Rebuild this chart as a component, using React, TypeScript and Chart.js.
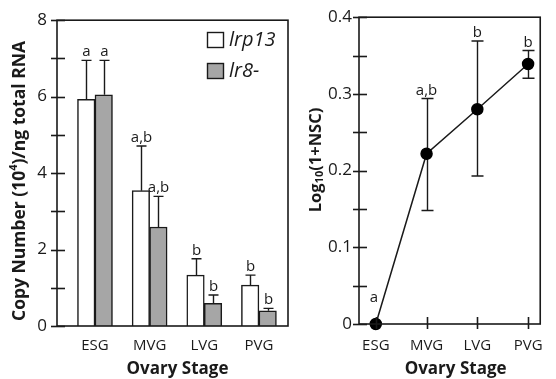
import React, { useEffect, useRef } from "react";
import { Chart, registerables } from "chart.js";
Chart.register(...registerables);

// ---------- data ----------
const stages = ["ESG", "MVG", "LVG", "PVG"];
const lrp13Values = [5.93, 3.54, 1.33, 1.07];
const lrp13ErrorTop = [6.95, 4.71, 1.76, 1.33];
const lrp13Letters = ["a", "a,b", "b", "b"];
const lr8Values = [6.05, 2.59, 0.59, 0.4];
const lr8ErrorTop = [6.95, 3.39, 0.81, 0.46];
const lr8Letters = ["a", "a,b", "b", "b"];
const nscValues = [0, 0.222, 0.28, 0.339];
const nscErrLow = [0, 0.148, 0.193, 0.3205];
const nscErrHigh = [0, 0.294, 0.369, 0.3565];
const nscLetters = ["a", "a,b", "b", "b"];

const FONT = "'Open Sans', 'DejaVu Sans', sans-serif";
const INK = "#1a1a1a";

type Seg = { t: string; small?: boolean; dy?: number };

function drawRich(ctx: CanvasRenderingContext2D, segs: Seg[], size: number, cx: number, cy: number, rot: number) {
  ctx.save();
  ctx.translate(cx, cy);
  ctx.rotate(rot);
  ctx.fillStyle = INK;
  ctx.textBaseline = "middle";
  ctx.textAlign = "left";
  let total = 0;
  const widths: number[] = [];
  for (const s of segs) {
    ctx.font = `bold ${s.small ? Math.round(size * 0.65) : size}px ${FONT}`;
    const w = ctx.measureText(s.t).width;
    widths.push(w);
    total += w;
  }
  let x = -total / 2;
  segs.forEach((s, i) => {
    ctx.font = `bold ${s.small ? Math.round(size * 0.65) : size}px ${FONT}`;
    ctx.fillText(s.t, x, s.dy || 0);
    x += widths[i];
  });
  ctx.restore();
}

function framePlugin(id: string, xTicks: boolean) {
  return {
    id,
    afterDatasetsDraw(chart: any) {
      const { ctx, chartArea: a, scales } = chart;
      ctx.save();
      ctx.strokeStyle = INK;
      ctx.lineWidth = 1.6;
      ctx.strokeRect(a.left, a.top, a.right - a.left, a.bottom - a.top);
      const ys = scales.y;
      ys.ticks.forEach((t: any) => {
        const py = Math.round(ys.getPixelForValue(t.value)) + 0.5;
        ctx.beginPath();
        ctx.moveTo(a.left - 6, py);
        ctx.lineTo(a.left + 8, py);
        ctx.stroke();
      });
      if (xTicks) {
        const xs = scales.x;
        xs.ticks.forEach((t: any) => {
          const px = Math.round(xs.getPixelForValue(t.value)) + 0.5;
          ctx.beginPath();
          ctx.moveTo(px, a.bottom + 5);
          ctx.lineTo(px, a.bottom - 7);
          ctx.stroke();
        });
      }
      ctx.restore();
    },
  };
}

function BarPanel() {
  const ref = useRef<HTMLCanvasElement>(null);
  useEffect(() => {
    const errPlugin = {
      id: "barErr",
      afterDatasetsDraw(chart: any) {
        const { ctx, scales } = chart;
        const tops = [lrp13ErrorTop, lr8ErrorTop];
        const letters = [lrp13Letters, lr8Letters];
        ctx.save();
        ctx.strokeStyle = INK;
        ctx.lineWidth = 1.4;
        ctx.fillStyle = INK;
        ctx.font = `15px ${FONT}`;
        ctx.textAlign = "center";
        ctx.textBaseline = "alphabetic";
        [0, 1].forEach((di) => {
          const meta = chart.getDatasetMeta(di);
          meta.data.forEach((bar: any, i: number) => {
            const x = Math.round(bar.x) + 0.5;
            const yTop = scales.y.getPixelForValue(tops[di][i]);
            ctx.beginPath();
            ctx.moveTo(x, bar.y);
            ctx.lineTo(x, yTop);
            ctx.moveTo(x - 5, yTop);
            ctx.lineTo(x + 5, yTop);
            ctx.stroke();
            ctx.fillText(letters[di][i], x, yTop - 4);
          });
        });
        // legend
        const lx = 207;
        const ly = [32, 63];
        chart.data.datasets.forEach((ds: any, i: number) => {
          ctx.fillStyle = ds.backgroundColor;
          ctx.fillRect(lx, ly[i], 16, 15);
          ctx.strokeStyle = INK;
          ctx.lineWidth = 1.4;
          ctx.strokeRect(lx + 0.5, ly[i] + 0.5, 16, 15);
          ctx.fillStyle = INK;
          ctx.font = `italic 20px ${FONT}`;
          ctx.textAlign = "left";
          ctx.textBaseline = "middle";
          ctx.fillText(ds.label, lx + 22, ly[i] + 8);
        });
        ctx.restore();
      },
    };
    const titlePlugin = {
      id: "barTitles",
      afterDraw(chart: any) {
        const { ctx, chartArea: a } = chart;
        drawRich(ctx, [{ t: "Ovary Stage" }], 17, (a.left + a.right) / 2 + 5, 369, 0);
        drawRich(
          ctx,
          [{ t: "Copy Number (10" }, { t: "4", small: true, dy: -6 }, { t: ")/ng total RNA" }],
          17.5,
          20,
          181,
          -Math.PI / 2
        );
      },
    };
    const chart = new Chart(ref.current!, {
      type: "bar",
      data: {
        datasets: [
          {
            label: "lrp13",
            data: lrp13Values.map((v, i) => ({ x: i, y: v })),
            backgroundColor: "#ffffff",
            borderColor: INK,
            borderWidth: 1.5,
            barThickness: 17.5,
          },
          {
            label: "lr8-",
            data: lr8Values.map((v, i) => ({ x: i, y: v })),
            backgroundColor: "#a6a6a6",
            borderColor: INK,
            borderWidth: 1.5,
            barThickness: 17.5,
          },
        ],
      },
      options: {
        responsive: false,
        animation: false,
        layout: { padding: { top: 19, right: 4, left: 0, bottom: 0 } },
        plugins: { legend: { display: false }, tooltip: { enabled: false } },
        scales: {
          x: {
            type: "linear",
            min: -0.695,
            max: 3.532,
            offset: false,
            grid: { display: false, drawTicks: false },
            border: { display: false },
            afterBuildTicks: (s: any) => {
              s.ticks = stages.map((_, i) => ({ value: i }));
            },
            afterFit: (s: any) => {
              s.height = 53;
            },
            ticks: {
              padding: 11,
              color: INK,
              font: { family: FONT, size: 15 },
              callback: (v: any) => stages[v] ?? "",
            },
          },
          y: {
            min: 0,
            max: 8,
            grid: { display: false, drawTicks: false },
            border: { display: false },
            afterFit: (s: any) => {
              s.width = 57;
            },
            ticks: {
              stepSize: 1,
              padding: 10,
              color: INK,
              font: { family: FONT, size: 17 },
              callback: (v: any) => (Math.round(v) % 2 === 0 ? String(v) : ""),
            },
          },
        },
      },
      plugins: [framePlugin("barFrame", false), errPlugin, titlePlugin],
    } as any);
    return () => chart.destroy();
  }, []);
  return <canvas ref={ref} width={292} height={379} style={{ position: "absolute", left: 0, top: 0 }} />;
}

function LinePanel() {
  const ref = useRef<HTMLCanvasElement>(null);
  useEffect(() => {
    const errPlugin = {
      id: "lineErr",
      beforeDatasetsDraw(chart: any) {
        const { ctx, scales } = chart;
        ctx.save();
        ctx.strokeStyle = INK;
        ctx.lineWidth = 1.4;
        nscValues.forEach((v, i) => {
          if (nscErrHigh[i] === nscErrLow[i]) return;
          const x = Math.round(scales.x.getPixelForValue(i)) + 0.5;
          const y1 = scales.y.getPixelForValue(nscErrLow[i]);
          const y2 = scales.y.getPixelForValue(nscErrHigh[i]);
          ctx.beginPath();
          ctx.moveTo(x, y1);
          ctx.lineTo(x, y2);
          ctx.moveTo(x - 6, y1);
          ctx.lineTo(x + 6, y1);
          ctx.moveTo(x - 6, y2);
          ctx.lineTo(x + 6, y2);
          ctx.stroke();
        });
        ctx.restore();
      },
      afterDatasetsDraw(chart: any) {
        const { ctx, scales } = chart;
        ctx.save();
        ctx.fillStyle = INK;
        ctx.font = `15px ${FONT}`;
        ctx.textAlign = "center";
        ctx.textBaseline = "alphabetic";
        nscValues.forEach((v, i) => {
          const x = scales.x.getPixelForValue(i);
          const noErr = nscErrHigh[i] === nscErrLow[i];
          const y = scales.y.getPixelForValue(nscErrHigh[i]) - (noErr ? 22 : 4);
          ctx.fillText(nscLetters[i], x + (noErr ? -2 : 0), y);
        });
        ctx.restore();
      },
    };
    const titlePlugin = {
      id: "lineTitles",
      afterDraw(chart: any) {
        const { ctx, chartArea: a } = chart;
        drawRich(ctx, [{ t: "Ovary Stage" }], 17, (a.left + a.right) / 2 + 6, 369, 0);
        drawRich(
          ctx,
          [{ t: "Log" }, { t: "10", small: true, dy: 4 }, { t: "(1+NSC)" }],
          16.5,
          26,
          160,
          -Math.PI / 2
        );
      },
    };
    const chart = new Chart(ref.current!, {
      type: "line",
      data: {
        datasets: [
          {
            label: "NSC",
            data: nscValues.map((v, i) => ({ x: i, y: v })),
            borderColor: INK,
            backgroundColor: INK,
            borderWidth: 1.5,
            pointRadius: 5.5,
            pointBackgroundColor: "#000",
            pointBorderColor: "#000",
            clip: false,
          },
        ],
      },
      options: {
        responsive: false,
        animation: false,
        layout: { padding: { top: 17, right: 3, left: 0, bottom: 0 } },
        plugins: { legend: { display: false }, tooltip: { enabled: false } },
        scales: {
          x: {
            type: "linear",
            min: -0.331,
            max: 3.239,
            grid: { display: false, drawTicks: false },
            border: { display: false },
            afterBuildTicks: (s: any) => {
              s.ticks = stages.map((_, i) => ({ value: i }));
            },
            afterFit: (s: any) => {
              s.height = 55;
            },
            ticks: {
              padding: 13,
              color: INK,
              font: { family: FONT, size: 15 },
              callback: (v: any) => stages[v] ?? "",
            },
          },
          y: {
            min: 0,
            max: 0.4,
            grid: { display: false, drawTicks: false },
            border: { display: false },
            afterFit: (s: any) => {
              s.width = 69;
            },
            ticks: {
              stepSize: 0.05,
              padding: 7,
              color: INK,
              font: { family: FONT, size: 17 },
              callback: (v: any) => {
                const k = Math.round(v * 100);
                if (k % 10 !== 0) return "";
                return k === 0 ? "0" : (k / 100).toFixed(1);
              },
            },
          },
        },
      },
      plugins: [framePlugin("lineFrame", true), errPlugin, titlePlugin],
    } as any);
    return () => chart.destroy();
  }, []);
  return <canvas ref={ref} width={266} height={379} style={{ position: "absolute", left: 290, top: 0 }} />;
}

export default function App() {
  return (
    <div style={{ position: "fixed", left: 0, top: 0, width: 556, height: 379, background: "#fff", overflow: "hidden" }}>
      <BarPanel />
      <LinePanel />
    </div>
  );
}
